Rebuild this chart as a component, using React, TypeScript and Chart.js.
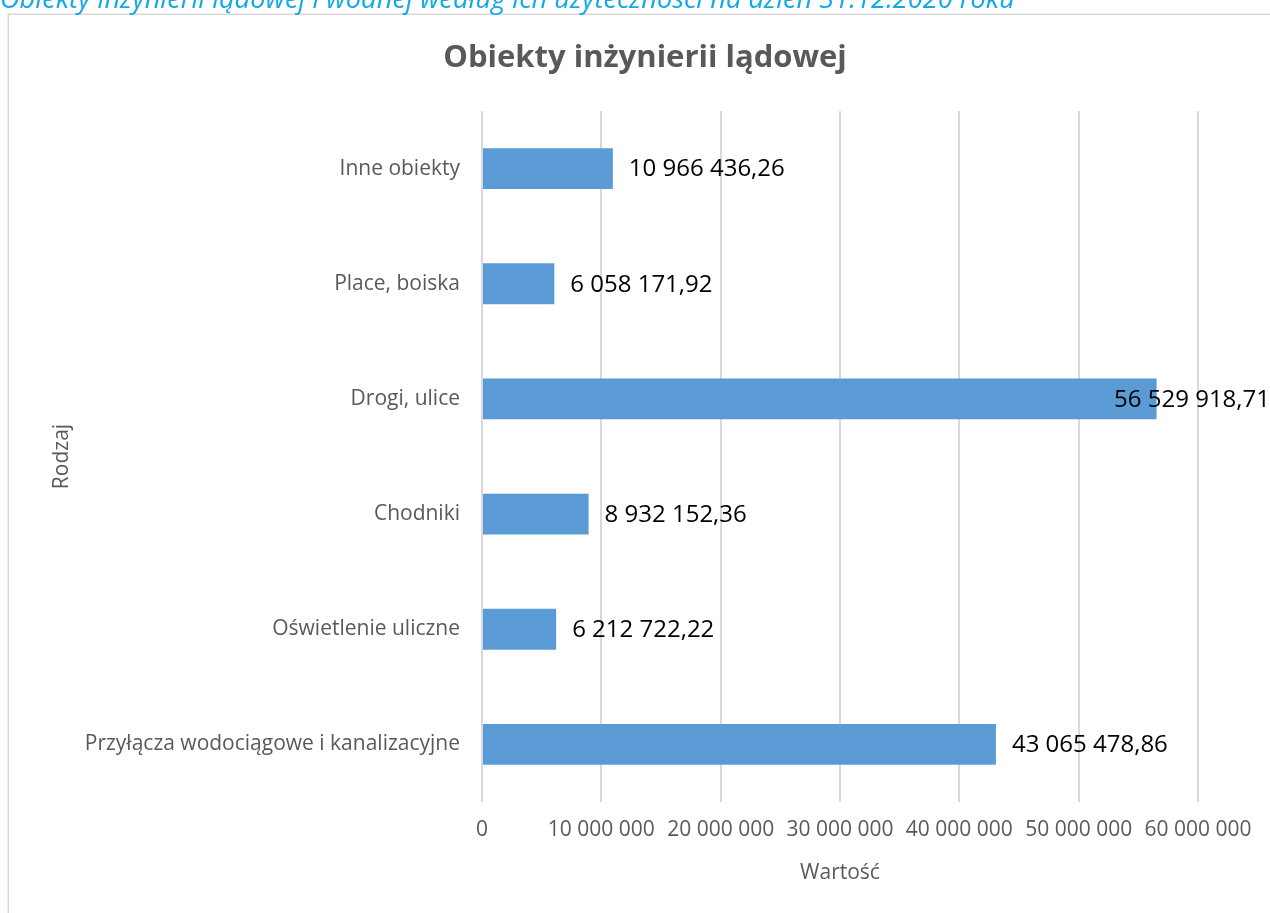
import React, { useEffect, useRef } from "react";
import { Chart, registerables } from "chart.js";

Chart.register(...registerables);

const caption = "Obiekty inżynierii lądowej i wodnej według ich użyteczności na dzień 31.12.2020 roku";
const chartTitle = "Obiekty inżynierii lądowej";
const categories = [
  "Inne obiekty",
  "Place, boiska",
  "Drogi, ulice",
  "Chodniki",
  "Oświetlenie uliczne",
  "Przyłącza wodociągowe i kanalizacyjne",
];
const values = [10966436.26, 6058171.92, 56529918.71, 8932152.36, 6212722.22, 43065478.86];
const xMin = 0;
const xMax = 60000000;
const xStep = 10000000;
const xTitle = "Wartość";
const yTitle = "Rodzaj";

const W = 1270;
const H = 913;
const FONT = "'Open Sans', sans-serif";

function groupThousands(intStr: string): string {
  return intStr.replace(/\B(?=(\d{3})+(?!\d))/g, " ");
}
function fmtValue(v: number): string {
  const [i, d] = v.toFixed(2).split(".");
  return groupThousands(i) + "," + d;
}
function fmtTick(v: number): string {
  return groupThousands(String(Math.round(v)));
}

const framePlugin = {
  id: "frame",
  beforeDraw(chart: any) {
    const ctx = chart.ctx;
    ctx.save();
    ctx.fillStyle = "#ffffff";
    ctx.fillRect(0, 0, W, H);
    ctx.strokeStyle = "#D9D9D9";
    ctx.lineWidth = 1.5;
    ctx.strokeRect(8.25, 14.25, W + 20, H + 20);
    ctx.font = `italic 20px ${FONT}`;
    const m = ctx.measureText(caption).width;
    const size = 20 * 1015 / m;
    ctx.font = `italic ${size}px ${FONT}`;
    ctx.fillStyle = "#13A9E6";
    ctx.textBaseline = "alphabetic";
    ctx.textAlign = "left";
    ctx.fillText(caption, 0, 8);
    // chart title
    ctx.font = `bold 31px ${FONT}`;
    ctx.fillStyle = "#595959";
    ctx.textAlign = "center";
    ctx.textBaseline = "middle";
    ctx.fillText(chartTitle, 645, 58);
    ctx.restore();
  },
};

const labelPlugin = {
  id: "barLabels",
  afterDatasetsDraw(chart: any) {
    const ctx = chart.ctx;
    const meta = chart.getDatasetMeta(0);
    ctx.save();
    ctx.font = `24px ${FONT}`;
    ctx.fillStyle = "#000000";
    ctx.textBaseline = "middle";
    ctx.textAlign = "left";
    meta.data.forEach((bar: any, i: number) => {
      const text = fmtValue(values[i]);
      const w = ctx.measureText(text).width;
      let x = bar.x + 16;
      if (x + w > W) x = W - w;
      ctx.fillText(text, x, bar.y + 1);
    });
    ctx.restore();
  },
};

export default function App() {
  const ref = useRef<HTMLCanvasElement | null>(null);
  useEffect(() => {
    if (!ref.current) return;
    const chart = new Chart(ref.current, {
      type: "bar",
      data: {
        labels: categories,
        datasets: [
          {
            data: values,
            backgroundColor: "#5B9BD5",
            borderWidth: 0,
            categoryPercentage: 1,
            barPercentage: 0.355,
          },
        ],
      },
      options: {
        indexAxis: "y",
        responsive: false,
        animation: false,
        layout: { padding: { top: 111, left: 20, right: 72, bottom: 0 } },
        plugins: {
          legend: { display: false },
          tooltip: { enabled: false },
          title: { display: false },
        },
        scales: {
          x: {
            type: "linear",
            min: xMin,
            max: xMax,
            afterFit(scale: any) {
              scale.height = 111;
            },
            ticks: {
              stepSize: xStep,
              color: "#595959",
              font: { family: FONT, size: 21 },
              padding: 15,
              maxRotation: 0,
              callback: (v: any) => fmtTick(Number(v)),
            },
            grid: { color: "#D9D9D9", lineWidth: 2, drawTicks: false },
            border: { display: false },
            title: {
              display: true,
              text: xTitle,
              color: "#595959",
              font: { family: FONT, size: 21 },
              padding: { top: 0, bottom: 27 },
            },
          },
          y: {
            type: "category",
            afterFit(scale: any) {
              scale.width = 462;
            },
            ticks: {
              color: "#595959",
              font: { family: FONT, size: 21 },
              padding: 22,
            },
            grid: { display: false, drawTicks: false },
            border: { display: false },
            title: {
              display: true,
              text: yTitle,
              color: "#595959",
              font: { family: FONT, size: 21 },
              padding: { top: 29, bottom: 0 },
            },
          },
        },
      },
      plugins: [framePlugin, labelPlugin],
    } as any);
    return () => chart.destroy();
  }, []);
  return (
    <div style={{ position: "fixed", left: 0, top: 0, width: W, height: H, background: "#fff" }}>
      <canvas ref={ref} width={W} height={H} style={{ display: "block", width: W, height: H }} />
    </div>
  );
}
